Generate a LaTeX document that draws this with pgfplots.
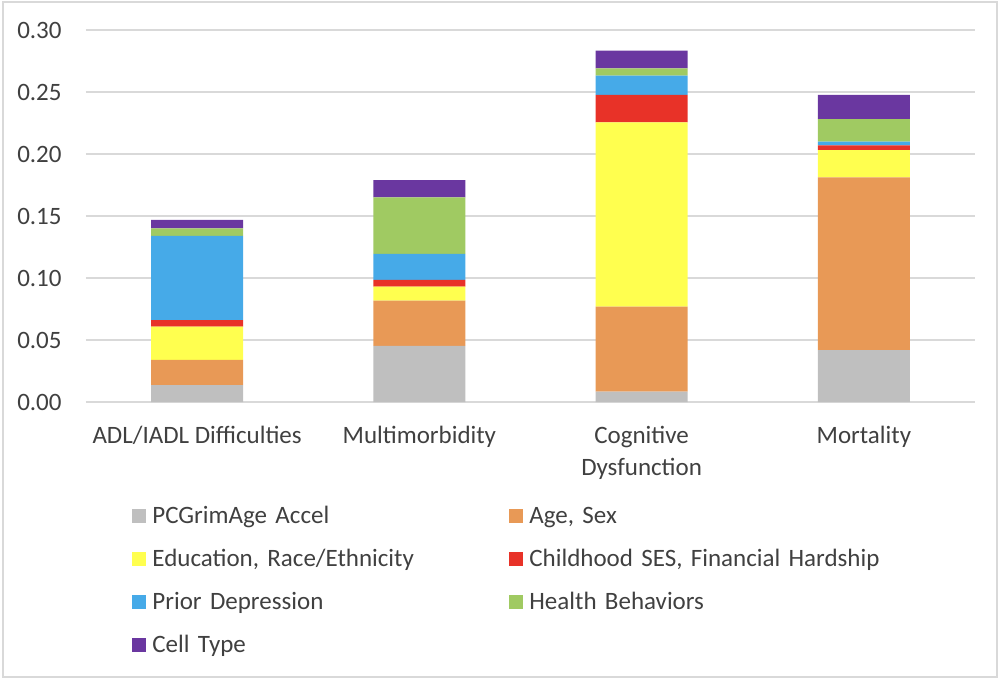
\documentclass[border=0pt]{standalone}
\usepackage{fontspec}
\setmainfont{Carlito}
\usepackage{pgfplots}
\usepackage{pgfplotstable}
\pgfplotsset{compat=1.18}
\definecolor{cGrey}{HTML}{BFBFBF}
\definecolor{cOrange}{HTML}{E89956}
\definecolor{cYellow}{HTML}{FFFF4F}
\definecolor{cRed}{HTML}{E83228}
\definecolor{cBlue}{HTML}{46AAE8}
\definecolor{cGreen}{HTML}{A0CA62}
\definecolor{cPurple}{HTML}{6A37A0}
\definecolor{txt}{HTML}{404040}
\definecolor{gridc}{HTML}{D9D9D9}
\pgfplotstableread{
x grim age edu child dep health cell
0 0.0137 0.0202 0.0268 0.0054 0.0678 0.0061 0.0068
1 0.0452 0.0365 0.0113 0.0054 0.0210 0.0457 0.0139
2 0.0083 0.0686 0.1486 0.0221 0.0156 0.0059 0.0142
3 0.0419 0.1393 0.0220 0.0037 0.0030 0.0183 0.0194
}\datatable
\begin{document}
\fontsize{12.5pt}{16pt}\selectfont
\begin{tikzpicture}
\useasboundingbox (-43pt,-139.5pt) rectangle (457pt,201pt);
\draw[color=gridc, line width=0.8pt] (-41.5pt,-137.5pt) rectangle (455.5pt,200pt);
\begin{axis}[
  at={(0pt,0pt)}, anchor=south west,
  scale only axis, width=444.5pt, height=186pt,
  xmin=-0.5, xmax=3.5, ymin=0, ymax=0.30,
  ybar stacked, bar width=46pt,
  axis line style={draw=none},
  major tick length=0pt,
  ymajorgrids, grid style={color=gridc, line width=0.75pt},
  ytick={0,0.05,0.10,0.15,0.20,0.25,0.30},
  yticklabel style={/pgf/number format/fixed, /pgf/number format/fixed zerofill, /pgf/number format/precision=2, /pgf/number format/assume math mode=true,
    anchor=east, inner sep=0pt, xshift=-12pt, text=txt, font=\fontsize{12.5pt}{16pt}\selectfont},
  xtick={0,1,2,3},
  xticklabels={{\strut ADL/IADL Difficulties}, {\strut Multimorbidity}, {\strut Cognitive\\Dysfunction}, {\strut Mortality}},
  xticklabel style={align=center, anchor=north, inner sep=0pt, yshift=-9.3pt, text=txt, font=\fontsize{12.5pt}{16pt}\selectfont},
  legend columns=2,
  legend cell align=left,
  legend image code/.code={\draw[#1, draw=none] (0pt,-3.5pt) rectangle (7pt,3.5pt);},
  legend style={at={(0,0)}, anchor=north west, xshift=23pt, yshift=-50.65pt,
    draw=none, fill=none, inner sep=0pt, column sep=0pt, row sep=9.5pt,
    font=\fontsize{12.5pt}{16pt}\selectfont, text=txt,
    nodes={text width=178.5pt, inner sep=0pt, text height=10pt, text depth=2pt},
    /tikz/every odd column/.append style={column sep=3pt},
    /tikz/every even column/.append style={column sep=0pt}},
]
\addplot[fill=cGrey, draw=none] table[x=x, y=grim] {\datatable};
\addlegendentry{PCGrimAge Accel}
\addplot[fill=cOrange, draw=none] table[x=x, y=age] {\datatable};
\addlegendentry{Age, Sex}
\addplot[fill=cYellow, draw=none] table[x=x, y=edu] {\datatable};
\addlegendentry{Education, Race/Ethnicity}
\addplot[fill=cRed, draw=none] table[x=x, y=child] {\datatable};
\addlegendentry{Childhood SES, Financial Hardship}
\addplot[fill=cBlue, draw=none] table[x=x, y=dep] {\datatable};
\addlegendentry{Prior Depression}
\addplot[fill=cGreen, draw=none] table[x=x, y=health] {\datatable};
\addlegendentry{Health Behaviors}
\addplot[fill=cPurple, draw=none] table[x=x, y=cell] {\datatable};
\addlegendentry{Cell Type}
\end{axis}
\end{tikzpicture}
\end{document}
